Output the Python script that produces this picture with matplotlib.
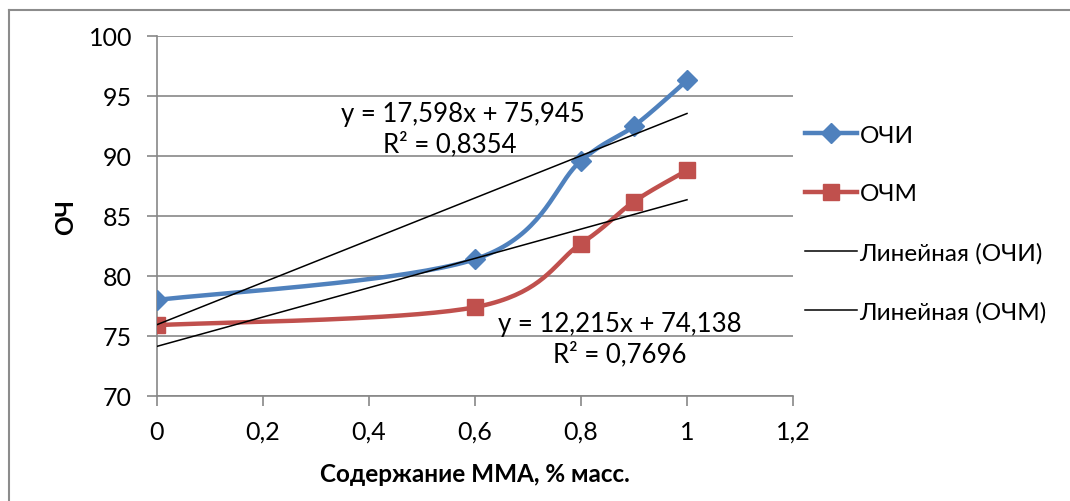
import numpy as np
import matplotlib
matplotlib.use("Agg")
import matplotlib.pyplot as plt
from matplotlib.lines import Line2D

x_vals = [0, 0.6, 0.8, 0.9, 1.0]
ochi = [78.0, 81.4, 89.6, 92.5, 96.3]
ochm = [75.9, 77.4, 82.7, 86.2, 88.8]
x_ticks = [0, 0.2, 0.4, 0.6, 0.8, 1.0, 1.2]
x_tick_labels = ["0", "0,2", "0,4", "0,6", "0,8", "1", "1,2"]
y_ticks = [70, 75, 80, 85, 90, 95, 100]
labels = ["ОЧИ", "ОЧМ", "Линейная (ОЧИ)", "Линейная (ОЧМ)"]
eq1 = ["y = 17,598x + 75,945", "R² = 0,8354"]
eq2 = ["y = 12,215x + 74,138", "R² = 0,7696"]

plt.rcParams['font.family'] = ['Lato', 'DejaVu Sans']

W, H = 1070, 502
fig = plt.figure(figsize=(W/100, H/100), dpi=100)
ax = fig.add_axes([157/W, 1-397/H, (793-157)/W, (397-37)/H])

def smooth(xs, ys, n=40):
    px = np.array(xs, float); py = np.array(ys, float)
    P = np.column_stack([px, py])
    P = np.vstack([P[0], P, P[-1]])
    out = []
    for i in range(1, len(P)-2):
        p0, p1, p2, p3 = P[i-1], P[i], P[i+1], P[i+2]
        c1 = p1 + (p2-p0)/6
        c2 = p2 - (p3-p1)/6
        t = np.linspace(0, 1, n)[:, None]
        seg = (1-t)**3*p1 + 3*(1-t)**2*t*c1 + 3*(1-t)*t**2*c2 + t**3*p2
        out.append(seg if i == 1 else seg[1:])
    S = np.vstack(out)
    return S[:, 0], S[:, 1]

blue = '#4F81BD'
red = '#C0504D'
grid_c = '#878787'

for yv in y_ticks:
    ax.axhline(yv, color=grid_c, lw=1.2, zorder=1)

sx, sy = smooth(x_vals, ochi)
ax.plot(sx, sy, color=blue, lw=3.2, zorder=3, solid_capstyle='round')
ax.plot(x_vals, ochi, ls='none', marker='D', ms=10, color=blue, zorder=4)
sx, sy = smooth(x_vals, ochm)
ax.plot(sx, sy, color=red, lw=3.2, zorder=3, solid_capstyle='round')
ax.plot(x_vals, ochm, ls='none', marker='s', ms=11, color=red, zorder=4)

xs = np.array([x_vals[0], x_vals[-1]])
for ys in (ochi, ochm):
    k, b = np.polyfit(x_vals, ys, 1)
    ax.plot(xs, k*xs+b, color='black', lw=1.1, zorder=5)

ax.set_xlim(0, 1.2)
ax.set_ylim(70, 100)
ax.set_xticks(x_ticks)
ax.set_xticklabels(x_tick_labels)
ax.set_yticks(y_ticks)
for s in ['top', 'right']:
    ax.spines[s].set_visible(False)
for s in ['left', 'bottom']:
    ax.spines[s].set_color(grid_c)
    ax.spines[s].set_linewidth(1.2)
ax.tick_params(axis='both', colors=grid_c, labelcolor='black', labelsize=18,
               length=7, width=1.2, direction='out')
ax.tick_params(axis='y', pad=11)
ax.tick_params(axis='x', pad=10)
ax.set_xlabel("Содержание ММА, % масс.", fontsize=17.5, fontweight='bold', labelpad=14)
ax.set_ylabel("ОЧ", fontsize=17.5, fontweight='bold', labelpad=8)

fs_eq = 18.5
ax.text(0.577, 93.5, eq1[0], fontsize=fs_eq, ha='center', va='center')
ax.text(0.553, 91.08, eq1[1], fontsize=fs_eq, ha='center', va='center')
ax.text(0.873, 76.08, eq2[0], fontsize=fs_eq, ha='center', va='center')
ax.text(0.873, 73.58, eq2[1], fontsize=fs_eq, ha='center', va='center')

handles = [
    Line2D([], [], color=blue, lw=3.2, marker='D', ms=10),
    Line2D([], [], color=red, lw=3.2, marker='s', ms=11),
    Line2D([], [], color='black', lw=1.1),
    Line2D([], [], color='black', lw=1.1),
]
leg = fig.legend(handles, labels, loc='upper left', bbox_to_anchor=(795/W, 1-116/H),
                 frameon=False, fontsize=17.5, handlelength=2.15, handletextpad=0.1,
                 labelspacing=1.55, borderaxespad=0)

fig.add_artist(Line2D([9/W, 9/W], [0, 1-11/H], color='#8c8c8c', lw=1.5))
fig.add_artist(Line2D([9/W, 1], [1-11/H, 1-11/H], color='#8c8c8c', lw=1.5))

fig.savefig("out.png", dpi=100)
